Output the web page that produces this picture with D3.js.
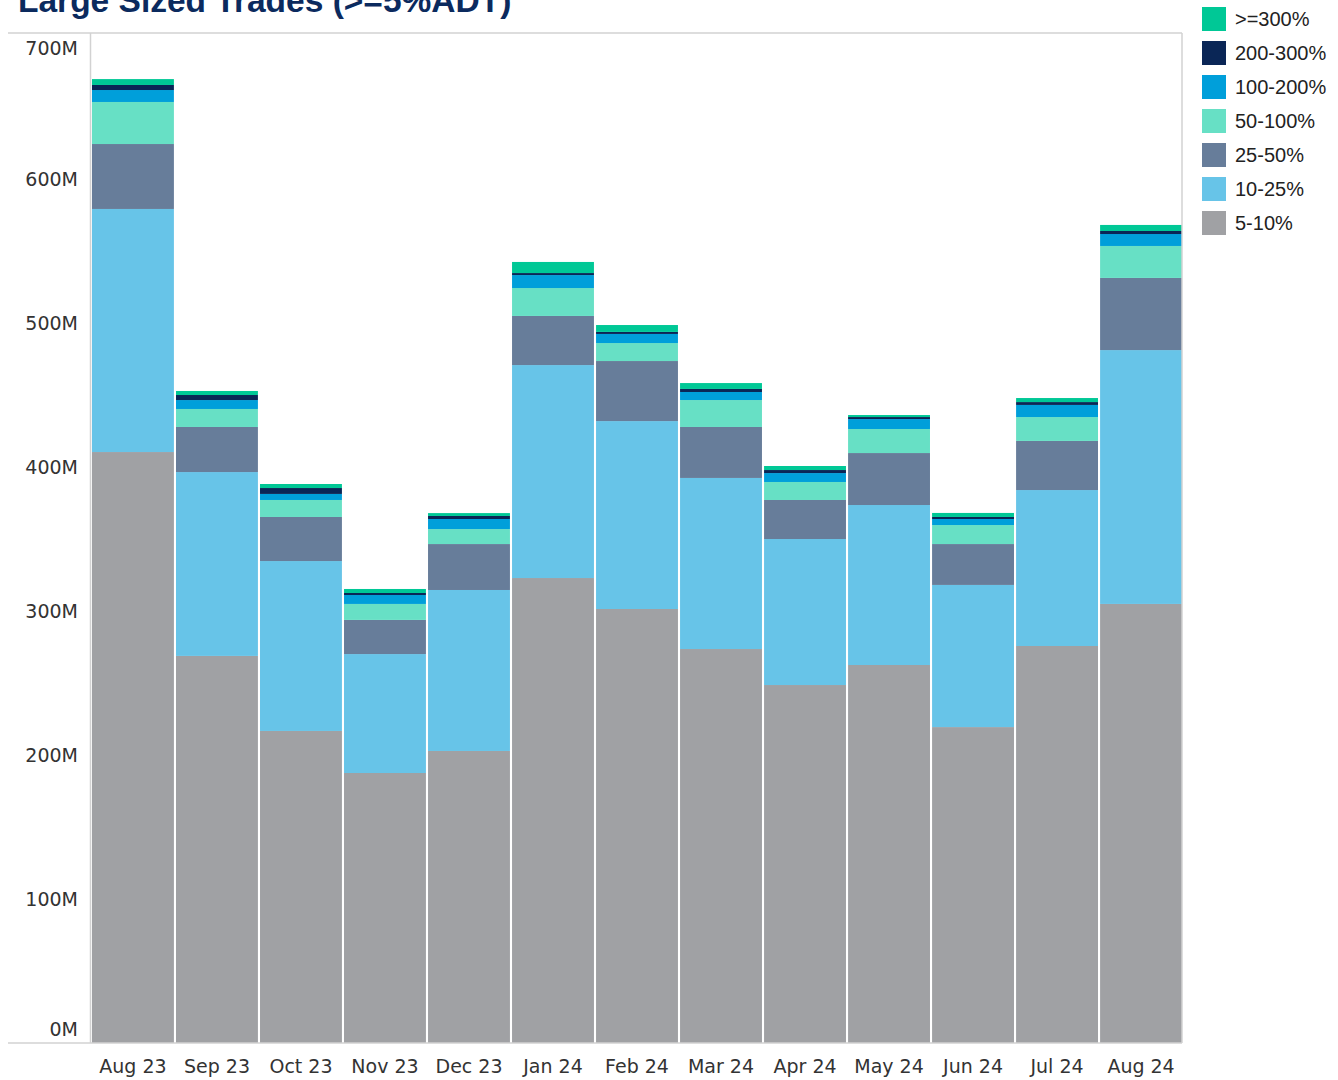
<!DOCTYPE html>
<html>
<head>
<meta charset="utf-8">
<script src="https://cdn.jsdelivr.net/npm/d3@7"></script>
<style>
  html, body { margin: 0; padding: 0; background: #fff; }
  svg { display: block; }
</style>
</head>
<body>
<svg id="chart" width="1338" height="1080"></svg>
<script>
// Monthly volume of large trades (millions), split by trade size as % of ADT
const months = ["Aug 23","Sep 23","Oct 23","Nov 23","Dec 23","Jan 24","Feb 24","Mar 24","Apr 24","May 24","Jun 24","Jul 24","Aug 24"];
const bucketNames = ["5-10%","10-25%","25-50%","50-100%","100-200%","200-300%",">=300%"];
const bucketColors = ["#a0a1a4","#67c4e8","#677d9a","#67e0c5","#009fda","#0a2656","#00c896"];

const size5to10    = [410.4,268.8,216.7,187.5,202.8,322.9,301.4,273.6,248.6,262.5,219.4,275.7,304.9];
const size10to25   = [168.8,127.7,118.0, 82.6,111.8,147.9,130.5,118.8,101.4,111.1, 98.7,108.3,176.3];
const size25to50   = [ 45.1, 31.3, 30.6, 23.7, 31.9, 34.1, 41.7, 35.4, 27.1, 36.1, 28.4, 34.1, 50.1];
const size50to100  = [ 29.2, 12.5, 11.8, 11.1, 10.4, 19.4, 12.5, 18.7, 12.5, 16.7, 13.2, 16.6, 22.2];
const size100to200 = [  8.3,  6.2,  4.2,  6.2,  7.0,  9.0,  6.3,  5.6,  6.2,  6.9,  4.2,  8.4,  8.3];
const size200to300 = [  3.5,  3.5,  4.1,  1.4,  2.1,  1.4,  1.4,  2.1,  2.1,  1.4,  1.4,  2.0,  2.1];
const size300plus  = [  4.1,  2.8,  2.8,  2.8,  2.0,  7.7,  4.8,  4.1,  2.8,  1.4,  2.8,  2.8,  4.2];

const yTicks = [0,100,200,300,400,500,600,700];
const titleText = "Large Sized Trades (>=5%ADT)";

const series = [size5to10,size10to25,size25to50,size50to100,size100to200,size200to300,size300plus];
const rows = months.map((m, i) => {
  const r = { month: m };
  bucketNames.forEach((b, k) => r[b] = series[k][i]);
  return r;
});

const svg = d3.select("#chart");
const pane = { left: 91, right: 1182, top: 33, bottom: 1043 };
const axisFont = "'DejaVu Sans', sans-serif";
const textColor = "#333";

const x = d3.scaleBand().domain(months).range([pane.left + 1, pane.right]).paddingInner(0.025).paddingOuter(0);
const y = d3.scaleLinear().domain([0, 701.4]).range([pane.bottom, pane.top]);

const stacked = d3.stack().keys(bucketNames)(rows);

// Title (sits partly above the top edge of the page)
svg.append("text")
  .attr("x", 18).attr("y", 12)
  .attr("font-family", "'Liberation Sans', Arial, sans-serif")
  .attr("font-weight", "bold")
  .attr("font-size", 33.5)
  .attr("fill", "#0b2a5e")
  .text(titleText);

// Stacked bars
svg.append("g").selectAll("g")
  .data(stacked)
  .join("g")
    .attr("fill", (d, i) => bucketColors[i])
  .selectAll("rect")
  .data(d => d)
  .join("rect")
    .attr("x", d => x(d.data.month))
    .attr("width", x.bandwidth())
    .attr("y", d => y(d[1]))
    .attr("height", d => y(d[0]) - y(d[1]));

// Pane frame
const frame = svg.append("g").attr("stroke", "#d2d2d2").attr("stroke-width", 1.5).attr("fill", "none");
frame.append("line").attr("x1", 8).attr("x2", pane.right).attr("y1", pane.top).attr("y2", pane.top);
frame.append("line").attr("x1", 8).attr("x2", pane.right).attr("y1", pane.bottom).attr("y2", pane.bottom);
frame.append("line").attr("x1", pane.left - 0.5).attr("x2", pane.left - 0.5).attr("y1", pane.top).attr("y2", pane.bottom);
frame.append("line").attr("x1", pane.right).attr("x2", pane.right).attr("y1", pane.top).attr("y2", pane.bottom);

// Y axis labels (kept inside the pane at the extremes)
const yAxis = d3.axisLeft(y).tickValues(yTicks).tickSize(0).tickPadding(0).tickFormat(d => d + "M");
const yg = svg.append("g").attr("transform", `translate(${pane.left - 13},0)`).call(yAxis);
yg.select(".domain").remove();
yg.selectAll(".tick text")
  .attr("font-family", axisFont).attr("font-size", 19).attr("fill", textColor)
  .attr("dy", "0.35em");
yg.selectAll(".tick").attr("transform", d => {
  const ty = Math.min(Math.max(y(d), pane.top + 15), pane.bottom - 14);
  return `translate(0,${ty})`;
});

// X axis labels
const xAxis = d3.axisBottom(x).tickSize(0).tickPadding(0);
const xg = svg.append("g").attr("transform", `translate(0,${pane.bottom})`).call(xAxis);
xg.select(".domain").remove();
xg.selectAll(".tick text")
  .attr("font-family", axisFont).attr("font-size", 19).attr("fill", textColor)
  .attr("dy", 0).attr("y", 30);

// Legend, top bucket first
const legend = svg.append("g").attr("transform", "translate(1202,7)");
const legendOrder = bucketNames.map((b, i) => ({ name: b, color: bucketColors[i] })).reverse();
const li = legend.selectAll("g").data(legendOrder).join("g")
  .attr("transform", (d, i) => `translate(0,${i * 34})`);
li.append("rect").attr("width", 24).attr("height", 24).attr("fill", d => d.color);
li.append("text")
  .attr("x", 33).attr("y", 12).attr("dy", "0.35em")
  .attr("font-family", "'Liberation Sans', Arial, sans-serif")
  .attr("font-size", 20).attr("fill", "#222")
  .text(d => d.name);
</script>
</body>
</html>
